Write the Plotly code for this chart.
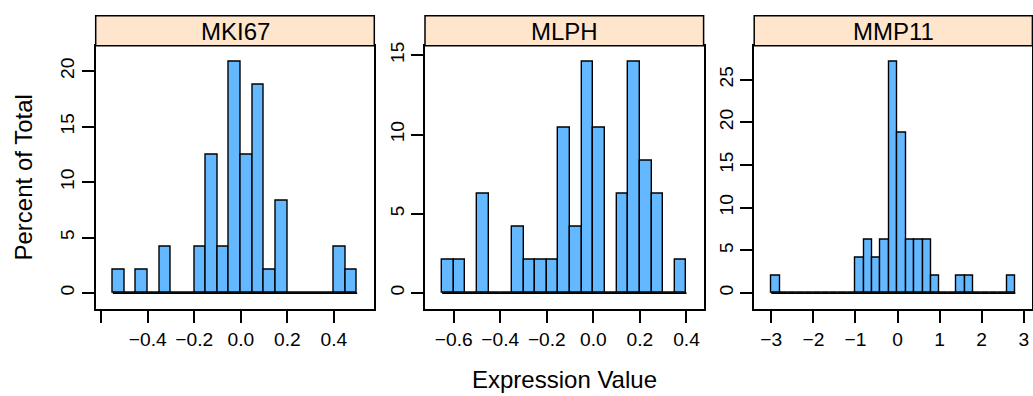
import plotly.graph_objects as go

W, H = 1033, 396

genes = ["MKI67", "MLPH", "MMP11"]

mki67_edges = [-0.55, -0.50, -0.45, -0.40, -0.35, -0.30, -0.25, -0.20, -0.15, -0.10, -0.05,
               0.00, 0.05, 0.10, 0.15, 0.20, 0.25, 0.30, 0.35, 0.40, 0.45, 0.50]
mki67_pct = [2.08, 0, 2.08, 0, 4.17, 0, 0, 4.17, 12.5, 4.17, 20.83,
             12.5, 18.75, 2.08, 8.33, 0, 0, 0, 0, 4.17, 2.08]

mlph_edges = [-0.65, -0.60, -0.55, -0.50, -0.45, -0.40, -0.35, -0.30, -0.25, -0.20, -0.15,
              -0.10, -0.05, 0.00, 0.05, 0.10, 0.15, 0.20, 0.25, 0.30, 0.35, 0.40]
mlph_pct = [2.08, 2.08, 0, 6.25, 0, 0, 4.17, 2.08, 2.08, 2.08, 10.42,
            4.17, 14.58, 10.42, 0, 6.25, 14.58, 8.33, 6.25, 0, 2.08]

mmp11_edges = [-3.0, -2.8, -2.6, -2.4, -2.2, -2.0, -1.8, -1.6, -1.4, -1.2, -1.0,
               -0.8, -0.6, -0.4, -0.2, 0.0, 0.2, 0.4, 0.6, 0.8, 1.0,
               1.2, 1.4, 1.6, 1.8, 2.0, 2.2, 2.4, 2.6, 2.8]
mmp11_pct = [2.08, 0, 0, 0, 0, 0, 0, 0, 0, 0,
             4.17, 6.25, 4.17, 6.25, 27.08, 18.75, 6.25, 6.25, 6.25, 2.08,
             0, 0, 2.08, 2.08, 0, 0, 0, 0, 2.08]

x_ticks = [
    [-0.6, -0.4, -0.2, 0.0, 0.2, 0.4],
    [-0.6, -0.4, -0.2, 0.0, 0.2, 0.4],
    [-3, -2, -1, 0, 1, 2, 3],
]
x_ticktext = [
    ["", "\u22120.4", "\u22120.2", "0.0", "0.2", "0.4"],
    ["\u22120.6", "\u22120.4", "\u22120.2", "0.0", "0.2", "0.4"],
    ["\u22123", "\u22122", "\u22121", "0", "1", "2", "3"],
]
y_ticks = [
    [0, 5, 10, 15, 20],
    [0, 5, 10, 15],
    [0, 5, 10, 15, 20, 25],
]

xlab = "Expression Value"
ylab = "Percent of Total"

bar_color = "#63B8FF"
strip_color = "#FFE5CC"
FONT = "Liberation Sans, Arial, sans-serif"

# panel pixel boxes (left, right)
panel_x = [(95.7, 374.3), (425.0, 703.6), (754.2, 1032.4)]
panel_top, panel_bot = 45.7, 309.3
strip_top = 15.7

def fx(px):
    return px / W

def fy(py):
    return (H - py) / H

fig = go.Figure()
series = [(mki67_edges, mki67_pct), (mlph_edges, mlph_pct), (mmp11_edges, mmp11_pct)]

layout_axes = {}
shapes = []
annotations = []
for i, (edges, pct) in enumerate(series):
    n = i + 1
    xa = "x" if n == 1 else f"x{n}"
    ya = "y" if n == 1 else f"y{n}"
    lefts = edges[:-1]
    widths = [edges[k + 1] - edges[k] for k in range(len(edges) - 1)]
    fig.add_trace(go.Bar(
        x=lefts, y=pct, width=widths, offset=0,
        marker=dict(color=bar_color, line=dict(color="black", width=1.4)),
        xaxis=xa, yaxis=ya, showlegend=False, hoverinfo="skip",
    ))
    # baseline of the histogram (zero-height bins)
    fig.add_trace(go.Scatter(
        x=[edges[0], edges[-1]], y=[0, 0], mode="lines",
        line=dict(color="black", width=1.6),
        xaxis=xa, yaxis=ya, showlegend=False, hoverinfo="skip",
    ))
    xr = edges[-1] - edges[0]
    ymax = max(pct)
    x0, x1 = panel_x[i]
    axis_common = dict(
        showline=True, mirror=True, linecolor="black", linewidth=1.5,
        ticks="outside", ticklen=12, tickwidth=1.5, tickcolor="black",
        showgrid=False, zeroline=False, automargin=False,
        tickfont=dict(family=FONT, size=19.2, color="black"),
    )
    layout_axes["xaxis" if n == 1 else f"xaxis{n}"] = dict(
        domain=[fx(x0), fx(x1)], anchor=ya,
        range=[edges[0] - 0.07 * xr, edges[-1] + 0.07 * xr],
        tickmode="array", tickvals=x_ticks[i], ticktext=x_ticktext[i],
        **axis_common,
    )
    layout_axes["yaxis" if n == 1 else f"yaxis{n}"] = dict(
        domain=[fy(panel_bot), fy(panel_top)], anchor=xa,
        range=[-0.07 * ymax, ymax * 1.07],
        tickmode="array", tickvals=y_ticks[i], ticktext=[str(v) for v in y_ticks[i]],
        tickangle=-90,
        **axis_common,
    )
    shapes.append(dict(
        type="rect", xref="paper", yref="paper",
        x0=fx(x0), x1=fx(x1), y0=fy(panel_top), y1=fy(strip_top),
        fillcolor=strip_color, line=dict(color="black", width=1.5), layer="above",
    ))
    annotations.append(dict(
        text=genes[i], xref="paper", yref="paper",
        x=fx((x0 + x1) / 2), y=fy((strip_top + panel_top) / 2 + 0.5),
        xanchor="center", yanchor="middle", showarrow=False,
        font=dict(family=FONT, size=24, color="black"),
    ))

annotations.append(dict(
    text=xlab, xref="paper", yref="paper",
    x=fx((panel_x[0][0] + panel_x[2][1]) / 2), y=fy(379),
    xanchor="center", yanchor="middle", showarrow=False,
    font=dict(family=FONT, size=24, color="black"),
))
annotations.append(dict(
    text=ylab, xref="paper", yref="paper",
    x=fx(23), y=fy((panel_top + panel_bot) / 2),
    xanchor="center", yanchor="middle", showarrow=False, textangle=-90,
    font=dict(family=FONT, size=24, color="black"),
))

fig.update_layout(
    width=W, height=H,
    margin=dict(l=0, r=0, t=0, b=0, autoexpand=False),
    paper_bgcolor="white", plot_bgcolor="white",
    bargap=0, showlegend=False,
    shapes=shapes, annotations=annotations,
    font=dict(family=FONT, color="black"),
    **layout_axes,
)

fig.write_html(
    "out.html",
    config={"displayModeBar": False},
    post_script="document.body.style.margin='0';document.body.style.padding='0';",
)
